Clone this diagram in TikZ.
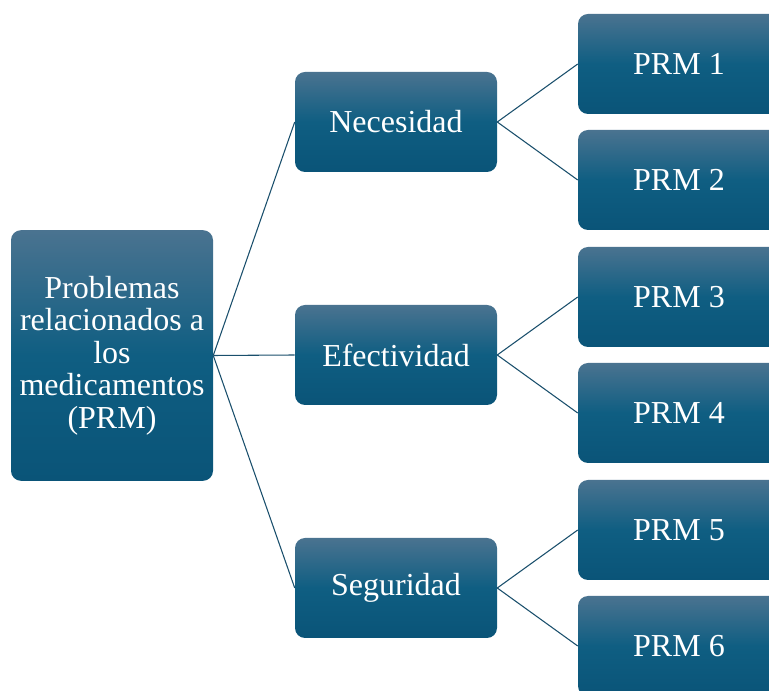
\documentclass[tikz,border=0pt]{standalone}
\usepackage{fontspec}
\setmainfont{Liberation Serif}
\definecolor{boxtop}{HTML}{4A7390}
\definecolor{boxmid}{HTML}{0F5E82}
\definecolor{boxbot}{HTML}{0A5478}
\definecolor{linkcol}{HTML}{1A4F6C}
\tikzset{
  box/.style={rounded corners=7.5pt, top color=boxtop, bottom color=boxbot, middle color=boxmid,
    text=white, minimum width=151.5pt, minimum height=75pt, align=center, font=\fontsize{24}{28}\selectfont},
  rootbox/.style={box, minimum height=188pt, font=\fontsize{24}{24.4}\selectfont},
  link/.style={draw=linkcol, line width=0.8pt}
}
\begin{document}
\begin{tikzpicture}[x=0.75pt, y=-0.75pt]
            \useasboundingbox (0,0) rectangle (769,691);
            \clip (0,0) rectangle (769,691);
            \node[rootbox] (prm) at (112,355.5) {Problemas\\relacionados a\\los\\medicamentos\\(PRM)};

            \node[box] (nec) at (396,122) {Necesidad};
            \node[box] (efe) at (396,355) {Efectividad};
            \node[box] (seg) at (396,588) {Seguridad};

            \node[box] (p1) at (679,64) {PRM 1};
            \node[box] (p2) at (679,180) {PRM 2};
            \node[box] (p3) at (679,297) {PRM 3};
            \node[box] (p4) at (679,413) {PRM 4};
            \node[box] (p5) at (679,530) {PRM 5};
            \node[box] (p6) at (679,646) {PRM 6};

            \draw[link] (prm.east) -- (nec.west);
            \draw[link] (prm.east) -- (efe.west);
            \draw[link] (prm.east) -- (seg.west);
            \draw[link] (nec.east) -- (p1.west);
            \draw[link] (nec.east) -- (p2.west);
            \draw[link] (efe.east) -- (p3.west);
            \draw[link] (efe.east) -- (p4.west);
            \draw[link] (seg.east) -- (p5.west);
            \draw[link] (seg.east) -- (p6.west);
        \end{tikzpicture}
\end{document}
